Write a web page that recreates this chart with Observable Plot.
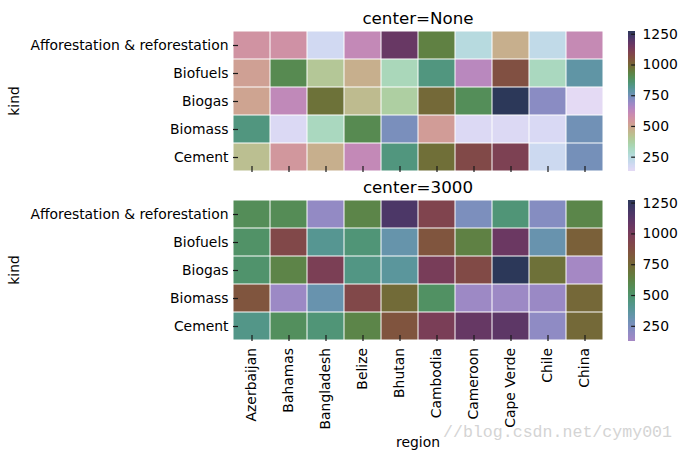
<!DOCTYPE html>
<html><head><meta charset="utf-8">
<script src="https://cdn.jsdelivr.net/npm/d3@7"></script>
<script src="https://cdn.jsdelivr.net/npm/@observablehq/plot@0.6"></script>
<style>
body{margin:0;background:#fff;font-family:"DejaVu Sans",sans-serif;color:#000}
#fig{position:relative;width:684px;height:453px;overflow:hidden;background:#fff}
.abs{position:absolute}
.title{font-size:16.7px;width:370px;left:233px;text-align:center;line-height:20px;white-space:nowrap}
.lab{font-size:13.9px;line-height:16px;white-space:nowrap}
.ylab{transform:translate(-50%,-50%) rotate(-90deg)}
.wm{font-family:"Liberation Mono",monospace;font-size:16.6px;color:#d4d4d4;line-height:20px;white-space:nowrap}
svg{background:transparent !important}
</style></head>
<body><div id="fig"></div>
<script>
// ---- data ----
const regions = ["Azerbaijan","Bahamas","Bangladesh","Belize","Bhutan","Cambodia","Cameroon","Cape Verde","Chile","China"];
const kinds = ["Afforestation & reforestation","Biofuels","Biogas","Biomass","Cement"];
const afforestation = [558, 566, 183, 612, 1166, 936, 251, 472, 224, 605];
const biofuels      = [514, 908, 403, 472, 326, 838, 634, 1057, 316, 784];
const biogas        = [502, 617, 974, 439, 375, 994, 893, 1275, 710, 131];
const biomass       = [838, 157, 316, 908, 736, 525, 154, 154, 163, 751];
const cement        = [428, 543, 472, 612, 840, 981, 1076, 1107, 194, 744];
const colorbarTicks = [250, 500, 750, 1000, 1250];
const titles = ["center=None", "center=3000"];

const rows = [afforestation, biofuels, biogas, biomass, cement];
const table = [];
kinds.forEach((k, i) => regions.forEach((r, j) => table.push({kind: k, region: r, value: rows[i][j]})));
const vmin = d3.min(table, d => d.value), vmax = d3.max(table, d => d.value);

// seaborn cubehelix_palette(start=1.5, rot=3, gamma=0.8, hue=0.8, light=.85, dark=.15)
function cubehelix(x) {
  const xg = Math.pow(x, 0.8);
  const a = 0.8 * xg * (1 - xg) / 2;
  const phi = 2 * Math.PI * (1.5 / 3 + 3 * x);
  const c = Math.cos(phi), s = Math.sin(phi);
  const cl = v => Math.round(255 * Math.max(0, Math.min(1, v)));
  const r = xg + a * (-0.14861 * c + 1.78277 * s);
  const g = xg + a * (-0.29227 * c - 0.90649 * s);
  const b = xg + a * (1.97294 * c);
  return `rgb(${cl(r)},${cl(g)},${cl(b)})`;
}
const cmapTop = t => cubehelix(0.85 - 0.7 * t);
const cmapBottom = t => cmapTop(0.47 + 0.53 * t);

const fig = document.getElementById("fig");
const font = {fontFamily: "DejaVu Sans", fontSize: "13.9px", background: "transparent", color: "#000"};

function place(node, left, top) {
  node.style.position = "absolute";
  node.style.left = left + "px";
  node.style.top = top + "px";
  fig.appendChild(node);
}
function div(cls, text, left, top) {
  const d = document.createElement("div");
  d.className = "abs " + cls;
  d.textContent = text;
  d.style.left = left + "px";
  d.style.top = top + "px";
  fig.appendChild(d);
  return d;
}

function heatmap(interp, top, showX) {
  const H = showX ? 245 : 180;
  const mt = showX ? 14.5 : 30.7;
  const mb = showX ? 245 - 155.5 : 8.7;
  const svg = Plot.plot({
    width: 615, height: H,
    marginLeft: 233, marginRight: 12, marginTop: mt, marginBottom: mb,
    style: font,
    x: {domain: regions, padding: 0, axis: null},
    y: {domain: kinds, padding: 0, axis: null},
    color: {type: "linear", domain: [vmin, vmax], interpolate: interp},
    marks: [
      Plot.cell(table, {x: "region", y: "kind", fill: "value", inset: 0.5}),
      Plot.axisY({tickSize: 0, tickPadding: 5, label: null, fontSize: 13.9}),
      showX ? Plot.axisX({tickSize: 0, tickPadding: 7, tickRotate: -90, label: null, fontSize: 13.9}) : null,
      Plot.tickX(regions, {x: d => d, y: () => kinds[kinds.length - 1], insetTop: 23, insetBottom: -1, stroke: "#1a1a1a", strokeWidth: 1.2}),
      Plot.tickY(kinds, {y: d => d, x: () => regions[0], insetRight: 32, stroke: "#1a1a1a", strokeWidth: 1.2})
    ]
  });
  place(svg, 0, top);
}

function colorbar(interp, top, barTop, barBottom) {
  const H = 180;
  const N = 240;
  const step = (vmax - vmin) / N;
  const steps = d3.range(N).map(i => vmin + i * step);
  const svg = Plot.plot({
    width: 64, height: H,
    marginLeft: 8, marginRight: 49, marginTop: barTop, marginBottom: H - barBottom,
    style: font,
    x: {domain: [0, 1], axis: null},
    y: {domain: [vmin, vmax], axis: null},
    color: {type: "linear", domain: [vmin, vmax], interpolate: interp},
    marks: [
      Plot.rect(steps, {x1: 0, x2: 1, y1: d => d, y2: d => Math.min(vmax, d + step * 1.5), fill: d => d + step / 2, shapeRendering: "crispEdges"}),
      Plot.ruleY(colorbarTicks, {x1: 0.45, x2: 1, stroke: "#1a1a1a", strokeWidth: 1.2}),
      Plot.axisY(colorbarTicks, {anchor: "right", tickSize: 0, tickPadding: 7, tickFormat: d => String(d), label: null, fontSize: 13.9})
    ]
  });
  place(svg, 620, top);
}

heatmap(cmapTop, 0, false);
heatmap(cmapBottom, 185, true);
colorbar(cmapTop, 0, 30.7, 171.3);
colorbar(cmapBottom, 185, 14.5, 155.5);

div("title", titles[0], 233, 8);
div("title", titles[1], 233, 177);
div("lab ylab", "kind", 14, 101);
div("lab ylab", "kind", 14, 270);
const reg = div("lab", "region", 418, 434);
reg.style.transform = "translateX(-50%)";
div("wm", "//blog.csdn.net/cymy001", 443, 423);
</script></body></html>
